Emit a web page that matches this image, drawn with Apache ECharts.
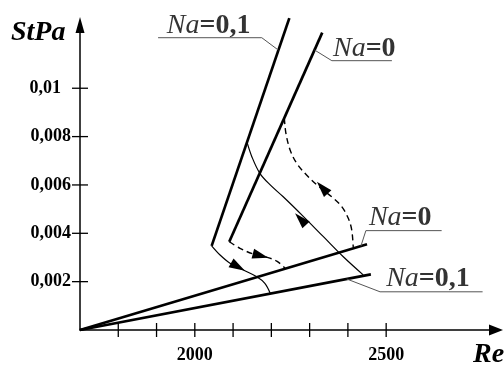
<!DOCTYPE html>
<html>
<head>
<meta charset="utf-8">
<script src="https://cdn.jsdelivr.net/npm/echarts@6/dist/echarts.min.js"></script>
<style>
html,body{margin:0;padding:0;background:#fff;}
#c{width:504px;height:365px;}
</style>
</head>
<body>
<div id="c"></div>
<script>
// ---- data ----
const xTicks = [1800, 1900, 2000, 2100, 2200, 2300, 2400, 2500];
const xTickLabels = [2000, 2500];
const yTicks = [0.002, 0.004, 0.006, 0.008, 0.01];
const yTickLabels = [0.002, 0.004, 0.006, 0.008, 0.01];

const shallowNa0 = [[1700, 0], [2450, 0.00355]];
const shallowNa01 = [[1700, 0], [2460, 0.0023]];
const steepNa01 = [[2044, 0.00348], [2247, 0.0129]];
const steepNa0 = [[2090, 0.00365], [2333, 0.0123]];

const thinCurve1 = [[2136, 0.00779], [2149, 0.00717], [2170, 0.00648], [2197, 0.0060], [2231, 0.00551], [2284, 0.00469], [2336, 0.00386], [2388, 0.00303], [2440, 0.00228]];
const thinCurve2 = [[2044, 0.00348], [2066, 0.0031], [2092, 0.00276], [2127, 0.00248], [2162, 0.0022], [2183, 0.00193], [2197, 0.00152]];
const dashCurve1 = [[2090, 0.00365], [2118, 0.00338], [2153, 0.00314], [2188, 0.00301], [2214, 0.00285], [2236, 0.00256]];
const dashCurve2 = [[2234, 0.00876], [2238, 0.00814], [2249, 0.00745], [2266, 0.0069], [2292, 0.00641], [2319, 0.006], [2362, 0.00545], [2384, 0.0051], [2401, 0.00462], [2410, 0.00414], [2414, 0.00341]];

// arrows: [tailX, tailY, tipX, tipY]
const arrows = [
  [2293, 0.00431, 2262, 0.00483],
  [2353, 0.00554, 2319, 0.00613],
  [2100, 0.00273, 2131, 0.00245],
  [2152, 0.00316, 2192, 0.00299]
];

// leader lines of the curve labels
const leaderTop01 = [[2218, 0.01158], [2175, 0.01209], [1904, 0.01209]];
const leaderTop0 = [[2313, 0.01158], [2358, 0.01114], [2515, 0.01114]];
const leaderMid0 = [[2434, 0.00347], [2447, 0.00411], [2645, 0.00411]];
const leaderLow01 = [[2397, 0.00211], [2484, 0.00158], [2752, 0.00158]];

// curve labels: [x, y, value text]
const curveLabels = [
  [1927, 0.0126, '=0,1'],
  [2361, 0.01164, '=0'],
  [2455, 0.00465, '=0'],
  [2500, 0.00213, '=0,1']
];

const xName = 'Re';
const yName = 'StPa';

// ---- chart ----
const SERIF = '"Liberation Serif", "Times New Roman", serif';
const chart = echarts.init(document.getElementById('c'), null, {renderer: 'canvas'});

function near(v, arr) { return arr.some(a => Math.abs(a - v) < 1e-9); }

function lineSeries(data, width, type, color) {
  return {
    type: 'line', data: data, symbol: 'none', clip: false, silent: true,
    smooth: data.length > 2 ? 0.35 : false,
    lineStyle: {color: color || '#000', width: width, type: type || 'solid', dashOffset: 0},
    animation: false
  };
}

const series = [
  lineSeries(shallowNa0, 2.7),
  lineSeries(shallowNa01, 2.7),
  lineSeries(steepNa01, 2.7),
  lineSeries(steepNa0, 2.7),
  lineSeries(thinCurve1, 1.2),
  lineSeries(thinCurve2, 1.2),
  lineSeries(dashCurve1, 1.4, [6, 4]),
  lineSeries(dashCurve2, 1.4, [6, 4]),
  Object.assign(lineSeries(leaderTop01, 1, 'solid', '#555'), {smooth: false}),
  Object.assign(lineSeries(leaderTop0, 1, 'solid', '#555'), {smooth: false}),
  Object.assign(lineSeries(leaderMid0, 1, 'solid', '#555'), {smooth: false}),
  Object.assign(lineSeries(leaderLow01, 1, 'solid', '#555'), {smooth: false}),
  {
    type: 'custom', clip: false, silent: true, animation: false,
    data: arrows,
    encode: {x: [0, 2], y: [1, 3]},
    renderItem: function (params, api) {
      const p1 = api.coord([api.value(0), api.value(1)]);
      const p2 = api.coord([api.value(2), api.value(3)]);
      let dx = p2[0] - p1[0], dy = p2[1] - p1[1];
      const len = Math.sqrt(dx * dx + dy * dy); dx /= len; dy /= len;
      const L = 16, W = 5;
      const bx = p2[0] - dx * L, by = p2[1] - dy * L;
      return {
        type: 'polygon',
        shape: {points: [[p2[0], p2[1]], [bx - dy * W, by + dx * W], [bx + dy * W, by - dx * W]]},
        style: {fill: '#000'}
      };
    }
  },
  {
    type: 'custom', clip: false, silent: true, animation: false,
    data: xTicks.map(v => [v, 0]),
    renderItem: function (params, api) {
      const p = api.coord([api.value(0), api.value(1)]);
      return {type: 'line', shape: {x1: p[0], y1: p[1] - 7, x2: p[0], y2: p[1] + 7}, style: {stroke: '#000', lineWidth: 1.3}};
    }
  },
  {
    type: 'custom', clip: false, silent: true, animation: false,
    data: yTicks.map(v => [1700, v]),
    renderItem: function (params, api) {
      const p = api.coord([api.value(0), api.value(1)]);
      return {type: 'line', shape: {x1: p[0] - 8, y1: p[1], x2: p[0] + 8, y2: p[1]}, style: {stroke: '#000', lineWidth: 1.3}};
    }
  },
  {
    type: 'scatter', clip: false, silent: true, animation: false,
    symbolSize: 0,
    data: curveLabels.map(d => ({value: [d[0], d[1]], name: d[2]})),
    label: {
      show: true, position: 'right', distance: 0,
      formatter: p => '{i|Na}{r|' + p.name + '}',
      rich: {
        i: {fontFamily: SERIF, fontStyle: 'italic', fontSize: 28, color: '#000'},
        r: {fontFamily: SERIF, fontWeight: 'bold', fontSize: 28, color: '#000'}
      }
    }
  }
];

chart.setOption({
  animation: false,
  backgroundColor: '#fff',
  grid: {left: 80, top: 25, right: 8, bottom: 35, containLabel: false},
  xAxis: {
    type: 'value', min: 1700, max: 2787, interval: 100,
    axisLine: {show: true, onZero: false, lineStyle: {color: '#000', width: 1.5}, symbol: ['none', 'triangle'], symbolSize: [11, 14]},
    axisTick: {show: false},
    splitLine: {show: false},
    axisLabel: {
      margin: 16, color: '#000', fontFamily: SERIF, fontWeight: 'bold', fontSize: 18,
      showMinLabel: true, showMaxLabel: true,
      formatter: v => near(v, xTickLabels) ? String(v) : ''
    }
  },
  yAxis: {
    type: 'value', min: 0, max: 0.012616, interval: 0.002,
    axisLine: {show: true, onZero: false, lineStyle: {color: '#000', width: 1.5}, symbol: ['none', 'triangle'], symbolSize: [9, 16]},
    axisTick: {show: false},
    splitLine: {show: false},
    axisLabel: {
      margin: 9, color: '#000', fontFamily: SERIF, fontWeight: 'bold', fontSize: 18,
      formatter: v => {
        if (!near(v, yTickLabels)) return '';
        const s = String(+v.toFixed(4)).replace('.', ',');
        return Math.abs(v - 0.01) < 1e-9 ? '{g|' + s + '}' : s;
      },
      rich: {g: {fontFamily: SERIF, fontWeight: 'bold', fontSize: 18, color: '#000', padding: [0, 10, 0, 0]}}
    }
  },
  graphic: [
    {type: 'text', left: 11, top: 19, style: {text: yName, font: 'italic bold 28px ' + SERIF, fill: '#000'}},
    {type: 'text', left: 473, top: 341, style: {text: xName, font: 'italic bold 28px ' + SERIF, fill: '#000'}}
  ],
  series: series
});
</script>
</body>
</html>
